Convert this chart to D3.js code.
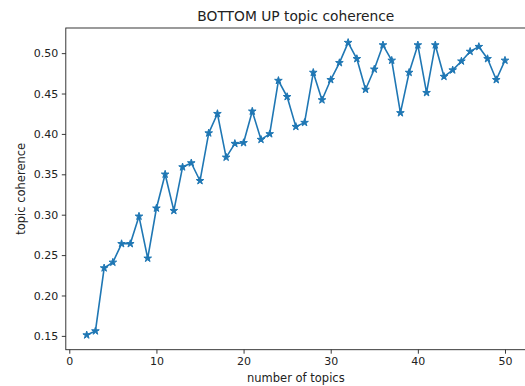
<!DOCTYPE html>
<html>
<head>
<meta charset="utf-8">
<script src="https://cdn.jsdelivr.net/npm/d3@7"></script>
<style>
  body { margin: 0; background: #fff; }
  svg { display: block; font-family: "DejaVu Sans", sans-serif; }
</style>
</head>
<body>
<div id="chart"></div>
<script>
// number of topics 2..50
var topics = [2, 3, 4, 5, 6, 7, 8, 9, 10, 11, 12, 13, 14, 15, 16, 17, 18, 19, 20, 21, 22, 23, 24, 25, 26,
  27, 28, 29, 30, 31, 32, 33, 34, 35, 36, 37, 38, 39, 40, 41, 42, 43, 44, 45, 46, 47, 48, 49, 50];
var coherence = [0.151, 0.156, 0.234, 0.241, 0.264, 0.264, 0.298, 0.246, 0.308, 0.350, 0.305, 0.359,
  0.364, 0.342, 0.401, 0.425, 0.371, 0.388, 0.389, 0.428, 0.393, 0.400, 0.466, 0.446, 0.409, 0.414,
  0.476, 0.442, 0.467, 0.488, 0.513, 0.493, 0.455, 0.480, 0.510, 0.491, 0.426, 0.476, 0.510, 0.451,
  0.510, 0.471, 0.479, 0.490, 0.502, 0.508, 0.493, 0.467, 0.491];
var xTicks = [0, 10, 20, 30, 40, 50];
var yTicks = [0.15, 0.20, 0.25, 0.30, 0.35, 0.40, 0.45, 0.50];

var width = 525, height = 386;
// plot box (window.top is reserved, so use own names)
var pLeft = 65.8, pRight = 525.9, pTop = 28, pBottom = 349.7;

var data = topics.map(function (t, i) { return {x: t, y: coherence[i]}; });

// matplotlib style 5% margins
var xe = d3.extent(topics), ye = d3.extent(coherence);
var xm = (xe[1] - xe[0]) * 0.05, ym = (ye[1] - ye[0]) * 0.05;

var x = d3.scaleLinear().domain([xe[0] - xm, xe[1] + xm]).range([pLeft, pRight]);
var y = d3.scaleLinear().domain([ye[0] - ym, ye[1] + ym]).range([pBottom, pTop]);

var svg = d3.select('#chart').append('svg')
    .attr('width', width)
    .attr('height', height);

var blue = '#1f77b4';

svg.append('path')
    .datum(data)
    .attr('fill', 'none')
    .attr('stroke', blue)
    .attr('stroke-width', 1.6)
    .attr('stroke-linejoin', 'round')
    .attr('d', d3.line().x(function (d) { return x(d.x); }).y(function (d) { return y(d.y); }));

svg.selectAll('.star').data(data)
  .enter().append('path')
    .attr('class', 'star')
    .attr('transform', function (d) { return 'translate(' + x(d.x) + ',' + y(d.y) + ')'; })
    .attr('d', d3.symbol().type(d3.symbolStar).size(18))
    .attr('fill', blue)
    .attr('stroke', blue)
    .attr('stroke-width', 1);

// axes
var xAxis = d3.axisBottom(x).tickValues(xTicks).tickFormat(d3.format('d')).tickSizeOuter(0).tickSize(4).tickPadding(3.5);
var yAxis = d3.axisLeft(y).tickValues(yTicks).tickFormat(d3.format('.2f')).tickSizeOuter(0).tickSize(4).tickPadding(3.5);

var gx = svg.append('g').attr('transform', 'translate(0,' + pBottom + ')').call(xAxis);
var gy = svg.append('g').attr('transform', 'translate(' + pLeft + ',0)').call(yAxis);

[gx, gy].forEach(function (g) {
  g.select('.domain').remove();
  g.selectAll('line').attr('stroke', '#222').attr('stroke-width', 0.9);
  g.selectAll('text').attr('fill', '#222').style('font-size', '11px').style('font-family', '"DejaVu Sans", sans-serif');
});

// spines
svg.append('rect')
    .attr('x', pLeft).attr('y', pTop)
    .attr('width', pRight - pLeft).attr('height', pBottom - pTop)
    .attr('fill', 'none')
    .attr('stroke', '#222')
    .attr('stroke-width', 0.9);

svg.append('text')
    .attr('x', (pLeft + pRight) / 2).attr('y', 20.5)
    .attr('text-anchor', 'middle')
    .attr('fill', '#222')
    .style('font-size', '13.8px')
    .text('BOTTOM UP topic coherence');

svg.append('text')
    .attr('x', (pLeft + pRight) / 2).attr('y', 382)
    .attr('text-anchor', 'middle')
    .attr('fill', '#222')
    .style('font-size', '11.5px')
    .text('number of topics');

svg.append('text')
    .attr('transform', 'translate(24.5,' + (pTop + pBottom) / 2 + ') rotate(-90)')
    .attr('text-anchor', 'middle')
    .attr('fill', '#222')
    .style('font-size', '11.5px')
    .text('topic coherence');
</script>
</body>
</html>
